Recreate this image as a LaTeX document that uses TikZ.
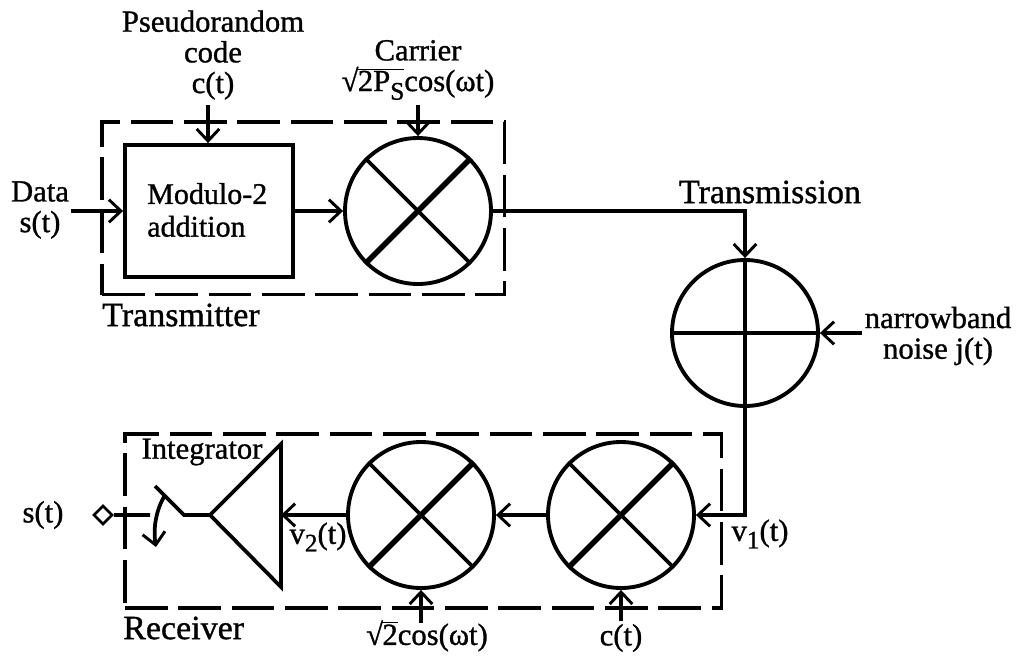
\documentclass[tikz,border=0pt]{standalone}
\usepackage{fontspec}
\setmainfont[FakeBold=1]{Liberation Serif}
\usetikzlibrary{arrows.meta}
\newcommand{\lab}[2]{\fontsize{#1}{#2}\selectfont}
\newcommand{\sroot}[1]{√\kern-0.02em$\overline{\hbox{#1}}$}
\tikzset{
  x=0.75pt,y=-0.75pt,
  wire/.style={line width=2.8pt,draw=black},
  sig/.style={wire,-{Straight Barb[length=9pt,width=17pt,line width=2.2pt]}},
  ring/.style={circle,draw=black,line width=2.9pt,minimum size=109.5pt,inner sep=0pt,fill=white},
  diag/.style={line width=2.8pt},
  diagb/.style={line width=4pt},
  grp/.style={draw=black,line width=2.8pt,dash pattern=on 32pt off 8pt},
  lbl/.style={inner sep=0pt,align=center,text=black},
  big/.style={lbl,font=\lab{25.5}{27}},
  mid/.style={lbl,font=\lab{22.5}{23.5}},
  small/.style={lbl,font=\lab{23}{23}},
}
\begin{document}
\begin{tikzpicture}
\useasboundingbox (0,0) rectangle (1016,657);
% group frames
\node[grp,minimum width=302pt,minimum height=129.5pt,inner sep=0pt,anchor=north west] (tx) at (100,120) {};
\node[grp,minimum width=447.5pt,minimum height=130.5pt,inner sep=0pt,anchor=north west] (rx) at (123,432) {};
% blocks
\node[draw=black,line width=2.9pt,minimum width=126pt,minimum height=99pt,inner sep=0pt] (mod) at (209,211) {};
\node[ring] (m1) at (418,211) {};
\node[ring] (add) at (745,333) {};
\node[ring] (m3) at (621,515) {};
\node[ring] (m2) at (421,515) {};
% crosses
\foreach \n in {m1,m2,m3}{
  \draw[diag] (\n.north west) -- (\n.south east);
  \draw[diagb] (\n.north east) -- (\n.south west);
}
\draw[diag] (add.north) -- (add.south);
\draw[diag] (add.west) -- (add.east);
% integrator and switch
\coordinate (it) at (281,444);
\coordinate (ib) at (281,587);
\coordinate (ia) at (210,515);
\draw[wire,line join=miter] (it) -- (ib) -- (ia) -- cycle;
\coordinate (hinge) at (184,515);
\coordinate (blade) at (155,486);
\draw[wire] (ia) -- (hinge) -- (blade);
\node[draw=black,line width=2pt,rotate=45,minimum size=9.5pt,inner sep=0pt] (out) at (103,515) {};
\coordinate (swin) at (150,515);
\draw[wire] (out) -- (swin);
\coordinate (arcs) at (165,495);
\coordinate (arce) at (156,547);
\draw[wire,-{Straight Barb[length=9pt,width=17pt,line width=2.2pt]}] (arcs) .. controls (156,510) and (153,528) .. (arce);
% free ends
\coordinate (fc) at (208,105);
\coordinate (fcar) at (418,105);
\coordinate (fdata) at (71,211);
\coordinate (fnoise) at (862,333);
\coordinate (fsq) at (421,623);
\coordinate (fct) at (621,621);
\coordinate (tr) at (745,211);
\coordinate (rr) at (745,515);
\coordinate (iin) at (281,515);
% connectors
\draw[sig] (fc) -- (mod.north -| fc);
\draw[sig] (fcar) -- (m1.north);
\draw[sig] (fdata) -- (mod.west);
\draw[sig] (mod.east) -- (m1.west);
\draw[sig] (m1.east) -- (tr) -- (add.north);
\draw[sig] (fnoise) -- (add.east);
\draw[sig] (add.south) -- (rr) -- (m3.east);
\draw[sig] (m3.west) -- (m2.east);
\draw[sig] (m2.west) -- (iin);
\draw[sig] (fsq) -- (m2.south);
\draw[sig] (fct) -- (m3.south);
% labels
\node[small] (l1) at (213,55) {Pseudorandom\\code\\c(t)};
\node[small] (l2) at (418,70) {Carrier\\\sroot{2P\raisebox{-.28em}{\lab{19}{19}S}}cos(ωt)};
\node[small] (l3) at (40,210) {Data\\s(t)};
\node[mid,align=left,anchor=west] (l4) at (147,210) {Modulo-2\\[1pt]addition};
\node[big,anchor=west] (l5) at (102,315) {Transmitter};
\node[big] (l6) at (770,192) {Transmission};
\node[small] (l7) at (938,336) {narrowband\\noise j(t)};
\node[small] (l8) at (760,534) {v\raisebox{-.25em}{\lab{19}{19}1}(t)};
\node[small] (l9) at (318,537) {v\raisebox{-.25em}{\lab{19}{19}2}(t)};
\node[small] (l10) at (202,452) {Integrator};
\node[big,anchor=west] (l11) at (123,628) {Receiver};
\node[small] (l12) at (427,636) {\sroot{2}cos(ωt)};
\node[small] (l13) at (621,638) {c(t)};
\node[small] (l14) at (43,515) {s(t)};
\end{tikzpicture}
\end{document}
